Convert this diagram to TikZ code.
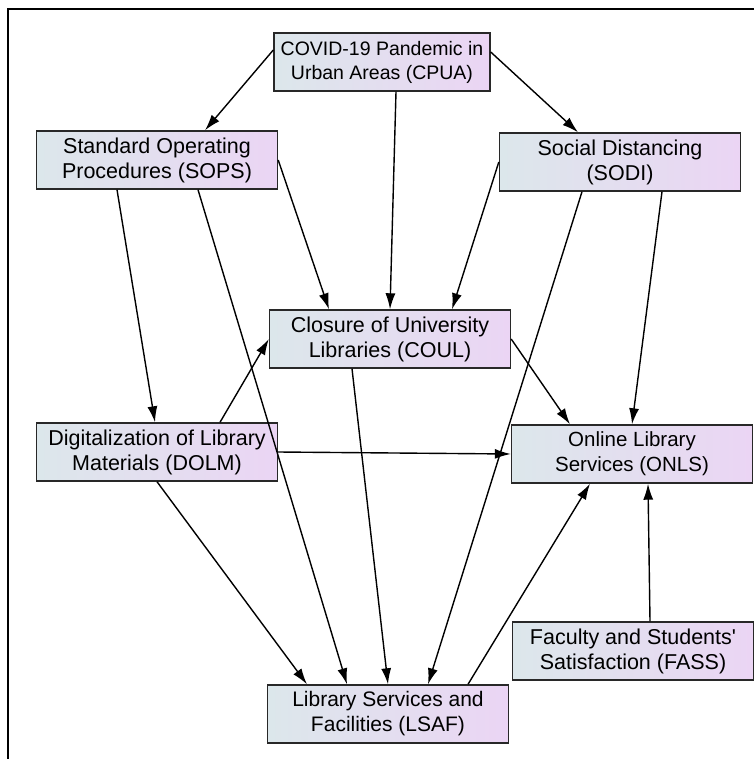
\documentclass[tikz,border=0pt]{standalone}
\usepackage{fontspec}
\setmainfont{Liberation Sans}
\usetikzlibrary{arrows.meta}

\definecolor{boxleft}{RGB}{220,231,235}
\definecolor{boxright}{RGB}{235,213,244}
\definecolor{boxline}{RGB}{40,40,40}

\begin{document}
\begin{tikzpicture}[
    x=1pt, y=-1pt,
    % define styles
    factor/.style={
        draw=boxline,
        line width=1.4pt,
        left color=boxleft,
        right color=boxright,
        minimum width=241pt,
        minimum height=58pt,
        inner sep=0pt,
        align=center,
        font=\fontsize{21.5}{25}\selectfont
    },
    link/.style={
        line width=1.4pt,
        -{Latex[length=16pt,width=10pt]}
    }
]
\useasboundingbox (0,0) rectangle (754,759);

% frame
\draw[line width=2.5pt] (8,759) -- (8,9) -- (754,9);

% factors
\node[factor, minimum width=216pt, font=\fontsize{19.5}{24}\selectfont] (cpua) at (382,62)
    {COVID-19 Pandemic in\\Urban Areas (CPUA)};
\node[factor] (sops) at (157,160) {Standard Operating\\Procedures (SOPS)};
\node[factor] (sodi) at (620,162) {Social Distancing\\(SODI)};
\node[factor] (coul) at (390,339) {Closure of University\\Libraries (COUL)};
\node[factor] (dolm) at (157,452) {Digitalization of Library\\Materials (DOLM)};
\node[factor, font=\fontsize{20.5}{25}\selectfont] (onls) at (632,454) {Online Library\\Services (ONLS)};
\node[factor] (fass) at (633,651) {Faculty and Students\textquotesingle\\Satisfaction (FASS)};
\node[factor, font=\fontsize{21}{25}\selectfont] (lsaf) at (388,714) {Library Services and\\Facilities (LSAF)};

% links out of CPUA
\draw[link] ([yshift=12pt]cpua.west) -- ([xshift=48pt]sops.north);
\draw[link] ([xshift=14pt]cpua.south) -- (coul.north);
\draw[link] ([yshift=10pt]cpua.east) -- ([xshift=-42pt]sodi.north);

% links out of SOPS
\draw[link] ([xshift=-40pt]sops.south) -- ([xshift=-2pt]dolm.north);
\draw[link] ([xshift=41pt]sops.south) -- ([xshift=-41pt]lsaf.north);
\draw[link] (sops.east) -- ([xshift=-61pt]coul.north);

% links out of SODI
\draw[link] (sodi.west) -- ([xshift=62pt]coul.north);
\draw[link] ([xshift=-38pt]sodi.south) -- ([xshift=40pt]lsaf.north);
\draw[link] ([xshift=42pt]sodi.south) -- (onls.north);

% links out of COUL
\draw[link] (coul.east) -- ([xshift=-62pt]onls.north);
\draw[link] ([xshift=-38pt]coul.south) -- (lsaf.north);

% links out of DOLM
\draw[link] ([xshift=63pt]dolm.north) -- (coul.west);
\draw[link] (dolm.east) -- (onls.west);
\draw[link] (dolm.south) -- ([xshift=-81pt]lsaf.north);

% links into ONLS
\draw[link] ([xshift=80pt]lsaf.north) -- ([xshift=-42pt]onls.south);
\draw[link] ([xshift=17pt]fass.north) -- ([xshift=16pt]onls.south);
\end{tikzpicture}
\end{document}
